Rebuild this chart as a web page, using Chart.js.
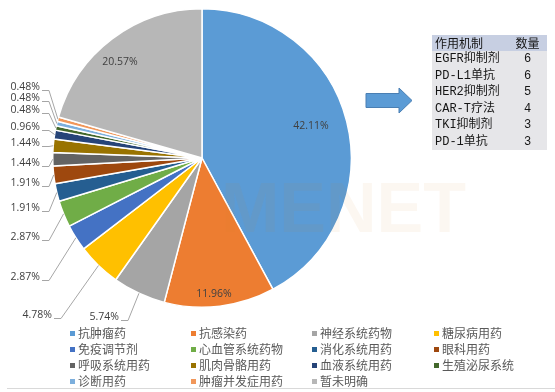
<!DOCTYPE html>
<html>
<head>
<meta charset="utf-8">
<script src="https://cdn.jsdelivr.net/npm/chart.js@4.4.0/dist/chart.umd.min.js"></script>
<style>
  html, body { margin: 0; padding: 0; background: #fff; }
  #wrap { position: relative; width: 555px; height: 392px; overflow: hidden; }
  #c { position: absolute; left: 0; top: 0; }
  #tbl {
    position: absolute; left: 432px; top: 35px; width: 115px;
    border-collapse: collapse; table-layout: fixed;
    font: 12px "Liberation Mono", "Noto Sans CJK SC", monospace; color: #151515;
  }
  #tbl th, #tbl td { padding: 0 0 0 3px; height: 16px; line-height: 16px; font-weight: normal; text-align: left; white-space: nowrap; }
  #tbl th { background: #c7cfe2; font-family: "Noto Sans CJK SC", sans-serif; }
  #tbl td { background: #e6e6e9; height: 16.5px; }
  #tbl .n { text-align: center; padding: 0; }
  .lg { position: absolute; font: 12px "Noto Sans CJK SC", sans-serif; color: #595959; line-height: 16px; white-space: nowrap; }
  .lg i { position: absolute; left: 0; top: 6px; width: 5px; height: 5px; }
  .lg span { position: absolute; left: 8px; top: 0; }
  #rule { position: absolute; left: 7px; top: 388px; width: 548px; height: 1px; background: #d9d9d9; }
</style>
</head>
<body>
<div id="wrap">
  <canvas id="c" width="555" height="392"></canvas>
  <table id="tbl"><colgroup><col style="width:76px"><col style="width:39px"></colgroup><tbody id="tb"></tbody></table>
  <div id="legend"></div>
  <div id="rule"></div>
</div>
<script>
// ── data ────────────────────────────────────────────────────────────
const CATEGORIES = [
  "抗肿瘤药", "抗感染药", "神经系统药物", "糖尿病用药",
  "免疫调节剂", "心血管系统药物", "消化系统用药", "眼科用药",
  "呼吸系统用药", "肌肉骨骼用药", "血液系统用药", "生殖泌尿系统",
  "诊断用药", "肿瘤并发症用药", "暂未明确",
];
const SHARES = [42.11, 11.96, 5.74, 4.78, 2.87, 2.87, 1.91, 1.91, 1.44, 1.44, 0.96, 0.48, 0.48, 0.48, 20.57];
const COLORS = [
  "#5B9BD5", "#ED7D31", "#A5A5A5", "#FFC000", "#4472C4", "#70AD47", "#255E91", "#9E480E",
  "#636363", "#997300", "#264478", "#43682B", "#7CAFDD", "#F1975A", "#B7B7B7",
];
const MECHANISMS = ["EGFR抑制剂", "PD-L1单抗", "HER2抑制剂", "CAR-T疗法", "TKI抑制剂", "PD-1单抗"];
const MECH_COUNTS = [6, 6, 5, 4, 3, 3];

// ── layout (label anchors, legend grid) ─────────────────────────────
const LABEL_POS = [
  { x: 311, y: 126, inside: true },
  { x: 214, y: 294, inside: true },
  { x: 119, y: 317 },
  { x: 52, y: 315 },
  { x: 40, y: 277 },
  { x: 40, y: 237 },
  { x: 40, y: 208 },
  { x: 40, y: 183 },
  { x: 40, y: 163 },
  { x: 40, y: 143 },
  { x: 40, y: 127 },
  { x: 40, y: 110 },
  { x: 40, y: 98 },
  { x: 40, y: 87 },
  { x: 120, y: 62, inside: true },
];
const LEG_X = [70, 191, 312, 434];
const LEG_Y = [333, 349, 365, 381];

// ── table + legend (html) ───────────────────────────────────────────
document.getElementById("tb").innerHTML =
  `<tr><th>作用机制</th><th class="n">数量</th></tr>` +
  MECHANISMS.map((m, i) => `<tr><td>${m}</td><td class="n">${MECH_COUNTS[i]}</td></tr>`).join("");

document.getElementById("legend").innerHTML = CATEGORIES.map((c, i) => `
  <div class="lg" style="left:${LEG_X[i % 4]}px;top:${LEG_Y[Math.floor(i / 4)] - 8}px">
    <i style="background:${COLORS[i]}"></i><span>${c}</span>
  </div>`).join("");

// ── labels, leader lines, watermark, arrow ──────────────────────────
const decor = {
  id: "decor",
  afterDatasetsDraw(chart) {
    const ctx = chart.ctx;
    const arcs = chart.getDatasetMeta(0).data;
    ctx.save();

    // watermark
    ctx.font = 'bold 70px "Liberation Sans", sans-serif';
    ctx.fillStyle = "rgba(215,130,50,0.065)";
    ctx.textBaseline = "alphabetic";
    ctx.textAlign = "left";
    ctx.fillText("MENET", 221, 232);

    ctx.font = '10.5px "Open Sans", sans-serif';
    ctx.fillStyle = "#404040";
    ctx.textBaseline = "middle";
    arcs.forEach((arc, i) => {
      const p = LABEL_POS[i];
      const txt = SHARES[i].toFixed(2) + "%";
      if (p.inside) {
        ctx.textAlign = "center";
        ctx.fillText(txt, p.x, p.y);
        return;
      }
      const { x, y, startAngle, endAngle, outerRadius } = arc.getProps(
        ["x", "y", "startAngle", "endAngle", "outerRadius"], true);
      const mid = (startAngle + endAngle) / 2;
      const ex = x + Math.cos(mid) * outerRadius;
      const ey = y + Math.sin(mid) * outerRadius;
      ctx.textAlign = "right";
      ctx.fillText(txt, p.x, p.y);
      ctx.strokeStyle = "#a6a6a6";
      ctx.lineWidth = 1;
      ctx.beginPath();
      ctx.moveTo(p.x + 2, p.y + 3.5);
      ctx.lineTo(p.x + 9, p.y + 3.5);
      ctx.lineTo(ex, ey);
      ctx.stroke();
    });

    // arrow
    ctx.beginPath();
    ctx.moveTo(366, 93.5);
    ctx.lineTo(399, 93.5);
    ctx.lineTo(399, 88);
    ctx.lineTo(412, 100.5);
    ctx.lineTo(399, 113);
    ctx.lineTo(399, 107.5);
    ctx.lineTo(366, 107.5);
    ctx.closePath();
    ctx.fillStyle = "#5B9BD5";
    ctx.fill();
    ctx.strokeStyle = "#4a7fb3";
    ctx.lineWidth = 1;
    ctx.stroke();
    ctx.restore();
  },
};

new Chart(document.getElementById("c"), {
  type: "pie",
  data: {
    labels: CATEGORIES,
    datasets: [{
      data: SHARES,
      backgroundColor: COLORS,
      borderColor: "#fff",
      borderWidth: 1.5,
    }],
  },
  options: {
    responsive: false,
    animation: false,
    layout: { padding: { left: 52, right: 203, top: 8, bottom: 84 } },
    plugins: { legend: { display: false }, tooltip: { enabled: false } },
  },
  plugins: [decor],
});
</script>
</body>
</html>
